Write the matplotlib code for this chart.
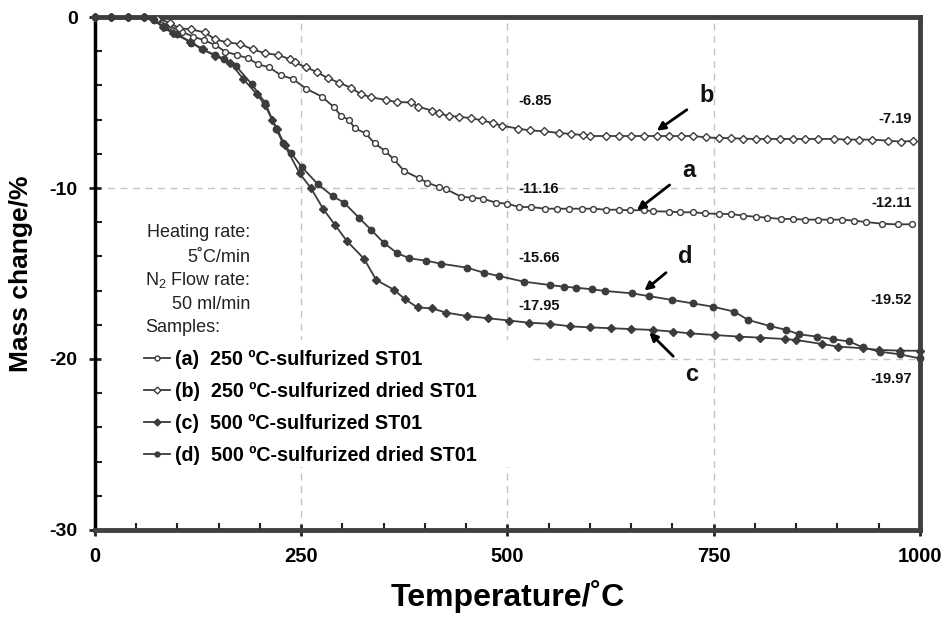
import matplotlib
matplotlib.use("Agg")
import matplotlib.pyplot as plt
from matplotlib.patches import Rectangle
from matplotlib.ticker import MultipleLocator

plt.rcParams["font.family"] = ["Liberation Sans", "DejaVu Sans"]
plt.rcParams["mathtext.fontset"] = "custom"
plt.rcParams["mathtext.rm"] = "Liberation Sans"
plt.rcParams["mathtext.bf"] = "Liberation Sans:bold"
plt.rcParams["axes.unicode_minus"] = False

# TGA curves (temperature in C, mass change in %)
T_A = [0, 20, 40, 60, 75, 90, 105, 119, 132, 146, 158, 172, 186, 198, 211, 225, 240, 256, 275, 290,
       298, 308, 315, 328, 339, 352, 362, 375, 393, 403, 417, 426, 444, 457, 470, 486, 500, 514, 529, 545,
       560, 575, 590, 604, 620, 635, 648, 666, 677, 696, 709, 725, 739, 756, 771, 786, 801, 815, 832, 846,
       861, 876, 891, 906, 920, 935, 954, 973, 990]
M_A = [0, 0, 0, 0, -0.2, -0.5, -0.85, -1.15, -1.35, -1.64, -2.03, -2.22, -2.42, -2.77, -2.94, -3.39, -3.63, -4.19, -4.66, -5.28,
       -5.77, -6.02, -6.51, -6.8, -7.39, -7.84, -8.32, -9.01, -9.43, -9.69, -9.94, -10.08, -10.51, -10.57, -10.62, -10.86, -10.92, -11.11, -11.11, -11.21,
       -11.21, -11.21, -11.21, -11.21, -11.27, -11.27, -11.30, -11.30, -11.36, -11.38, -11.42, -11.42, -11.48, -11.52, -11.52, -11.62, -11.68, -11.74, -11.81, -11.81,
       -11.85, -11.85, -11.85, -11.85, -11.91, -11.99, -12.09, -12.13, -12.12]

T_B = [0, 20, 40, 60, 75, 91, 102, 116, 133, 146, 160, 176, 191, 206, 222, 236, 242, 256, 269, 282,
       296, 310, 322, 335, 353, 366, 383, 392, 409, 417, 429, 441, 456, 469, 483, 494, 513, 527, 544, 562,
       577, 591, 600, 619, 635, 650, 665, 681, 696, 710, 725, 741, 756, 771, 786, 801, 815, 830, 846, 861,
       876, 896, 911, 926, 942, 961, 977, 991]
M_B = [0, 0, 0, 0, -0.1, -0.33, -0.66, -0.72, -0.9, -1.31, -1.48, -1.58, -1.89, -2.12, -2.22, -2.46, -2.65, -2.94, -3.22, -3.57,
       -3.84, -4.13, -4.5, -4.7, -4.85, -4.98, -4.99, -5.25, -5.48, -5.63, -5.79, -5.83, -5.92, -6.04, -6.22, -6.36, -6.53, -6.63, -6.68, -6.78,
       -6.84, -6.90, -6.96, -6.96, -6.96, -6.96, -6.96, -6.96, -6.96, -6.96, -6.96, -7.04, -7.08, -7.08, -7.12, -7.13, -7.13, -7.13, -7.13, -7.13,
       -7.13, -7.13, -7.17, -7.17, -7.17, -7.23, -7.29, -7.25]

T_C = [0, 20, 40, 60, 70, 82, 95, 115, 131, 146, 164, 180, 196, 206, 215, 221, 230, 248, 262, 277,
       291, 305, 326, 341, 362, 376, 391, 408, 426, 451, 477, 502, 526, 551, 576, 600, 625, 650, 676, 701,
       721, 752, 781, 806, 836, 850, 881, 901, 931, 950, 976, 1000]
M_C = [0, 0, 0, 0, -0.1, -0.6, -0.95, -1.44, -1.89, -2.28, -2.67, -3.64, -4.5, -5.15, -6.02, -6.57, -7.49, -9.14, -10.02, -11.25,
       -12.16, -13.08, -14.13, -15.38, -15.94, -16.51, -16.98, -17.04, -17.29, -17.49, -17.62, -17.75, -17.88, -17.94, -18.09, -18.15, -18.2, -18.25, -18.3, -18.4,
       -18.5, -18.6, -18.69, -18.75, -18.83, -18.89, -19.12, -19.28, -19.37, -19.47, -19.51, -19.52]

T_D = [0, 20, 40, 60, 72, 85, 100, 117, 130, 145, 157, 171, 190, 206, 220, 228, 238, 251, 270, 288,
       302, 320, 335, 350, 366, 381, 401, 420, 451, 471, 490, 520, 551, 568, 583, 602, 618, 651, 671, 700,
       725, 749, 775, 792, 818, 838, 854, 875, 895, 914, 931, 951, 976, 1000]
M_D = [0, 0, 0, 0, -0.2, -0.6, -1.0, -1.5, -1.9, -2.2, -2.45, -2.87, -3.92, -5.0, -6.57, -7.39, -7.97, -8.79, -9.77, -10.47,
       -10.86, -11.74, -12.46, -13.2, -13.8, -14.11, -14.25, -14.43, -14.66, -14.95, -15.15, -15.48, -15.67, -15.77, -15.83, -15.92, -16.02, -16.16, -16.32, -16.55,
       -16.75, -16.94, -17.23, -17.72, -18.07, -18.3, -18.56, -18.69, -18.85, -18.97, -19.32, -19.57, -19.73, -19.97]

LABELS = ["(a)  250 ºC-sulfurized ST01",
          "(b)  250 ºC-sulfurized dried ST01",
          "(c)  500 ºC-sulfurized ST01",
          "(d)  500 ºC-sulfurized dried ST01"]

# value callouts: (text, x, y, ha)
VALUE_LABELS = [("-6.85", 513, -4.9, "left"), ("-11.16", 513, -10.05, "left"),
                ("-15.66", 513, -14.1, "left"), ("-17.95", 513, -16.9, "left"),
                ("-7.19", 990, -5.95, "right"), ("-12.11", 990, -10.9, "right"),
                ("-19.52", 990, -16.55, "right"), ("-19.97", 990, -21.15, "right")]

# letter arrows: (letter, text x, text y, tip x, tip y)
LETTERS = [("b", 742, -4.6, 681, -6.65), ("a", 720, -8.95, 657, -11.3),
           ("d", 716, -14.0, 666, -16.0), ("c", 723, -20.9, 672, -18.45)]

# test conditions, right-aligned block
INFO_LINES = ["Heating rate:", "5˚C/min", "N$_2$ Flow rate:", "50 ml/min"]
INFO_Y = [-12.63, -14.04, -15.38, -16.84]

LINE = "#3c3c3c"
GRID = "#c4c4c4"

fig = plt.figure(figsize=(9.44, 6.23), dpi=100)
ax = fig.add_axes([0.1006, 0.1493, 0.8739, 0.8234])

# dashed grid, partly hidden behind the legend block
for xv in (250, 500, 750):
    ax.axvline(xv, color=GRID, ls=(0, (5, 4)), lw=1, zorder=0.5)
ax.axhline(-10, color=GRID, ls=(0, (5, 4)), lw=1, zorder=0.5)
ax.axhline(-20, xmin=0.531, color=GRID, ls=(0, (5, 4)), lw=1, zorder=0.5)
ax.add_patch(Rectangle((0, 0.123), 0.531, 0.247, transform=ax.transAxes,
                       facecolor="white", edgecolor="none", zorder=0.8))

common = dict(color=LINE, lw=1.3, clip_on=False, zorder=3)
ax.plot(T_A, M_A, marker="o", ms=4.2, mfc="white", mec=LINE, mew=1.0, label=LABELS[0], **common)
ax.plot(T_B, M_B, marker="D", ms=3.8, mfc="white", mec=LINE, mew=1.0, label=LABELS[1], **common)
ax.plot(T_C, M_C, marker="D", ms=4.2, mfc=LINE, mec=LINE, label=LABELS[2], **common)
ax.plot(T_D, M_D, marker="o", ms=4.6, mfc=LINE, mec=LINE, label=LABELS[3], **common)

ax.set_xlim(0, 1000)
ax.set_ylim(-30, 0)
ax.xaxis.set_major_locator(MultipleLocator(250))
ax.xaxis.set_minor_locator(MultipleLocator(50))
ax.yaxis.set_major_locator(MultipleLocator(10))
ax.yaxis.set_minor_locator(MultipleLocator(2))
ax.tick_params(which="major", direction="inout", length=9, width=2, color="#222222",
               top=False, right=False, pad=8)
ax.tick_params(which="minor", direction="in", length=5, width=1.5, color="#222222",
               top=False, right=False)
for lab in ax.get_yticklabels():
    lab.set_fontweight("bold")
    lab.set_fontsize(14)
for lab in ax.get_xticklabels():
    lab.set_fontweight("bold")
    lab.set_fontsize(14.5)

ax.spines["left"].set_color("black")
ax.spines["left"].set_linewidth(2.5)
for s in ("top", "right", "bottom"):
    ax.spines[s].set_color("#404040")
    ax.spines[s].set_linewidth(3.5)

ax.set_xlabel("Temperature/˚C", fontsize=23, fontweight="bold", labelpad=10)
ax.set_ylabel("Mass change/%", fontsize=19, fontweight="bold", labelpad=12)

info = dict(fontsize=13, color="#222222", va="center")
for line, yv in zip(INFO_LINES, INFO_Y):
    ax.text(188, yv, line, ha="right", **info)
ax.text(61, -18.13, "Samples:", ha="left", **info)

leg = ax.legend(loc="upper left", bbox_to_anchor=(0.06, 0.351), frameon=False,
                prop={"weight": "bold", "size": 14.2}, handlelength=1.3,
                handletextpad=0.25, labelspacing=0.66, borderpad=0, borderaxespad=0)
for h in leg.legend_handles:
    h.set_markersize(3.5)

for txt, xv, yv, ha in VALUE_LABELS:
    ax.text(xv, yv, txt, ha=ha, va="center", fontsize=10.5, fontweight="bold", color="#111111")

for letter, tx, ty, px, py in LETTERS:
    ax.annotate(letter, xy=(px, py), xytext=(tx, ty), fontsize=17, fontweight="bold",
                ha="center", va="center", color="#111111",
                arrowprops=dict(arrowstyle="-|>", color="black", lw=2,
                                shrinkA=9, shrinkB=0, mutation_scale=12))

fig.savefig("out.png", dpi=100)
